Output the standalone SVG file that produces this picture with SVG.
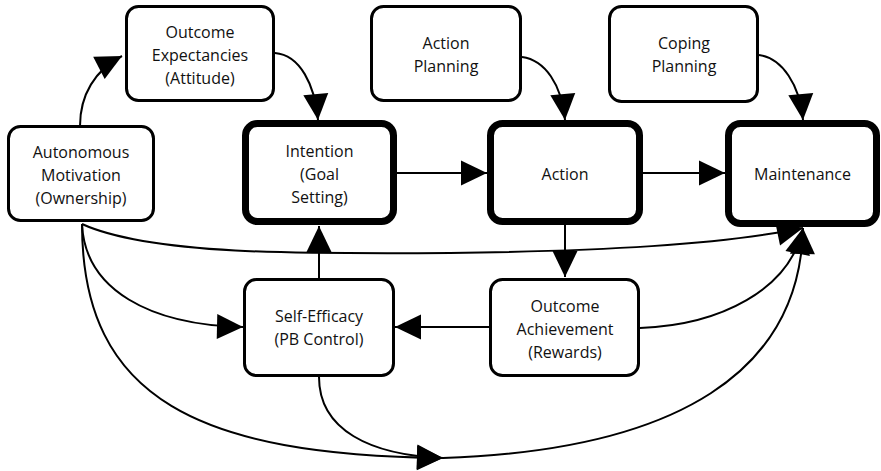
<svg xmlns="http://www.w3.org/2000/svg" width="881" height="471" viewBox="0 0 881 471">
<style>
.box{fill:#fff;stroke:#000;stroke-width:3}
.thick{fill:#fff;stroke:#000;stroke-width:7}
.lbl{font-family:"Open Sans","Noto Sans",sans-serif;font-size:16px;fill:#111;text-anchor:middle}
.c{fill:none;stroke:#000;stroke-width:2;marker-end:url(#ah)}
.cn{fill:none;stroke:#000;stroke-width:2}
</style>
<defs>
<marker id="ah" markerUnits="userSpaceOnUse" markerWidth="27" markerHeight="26" refX="26" refY="12.5" orient="auto" overflow="visible">
<path d="M0,0 L26,12.5 L0,25 Z" fill="#000"/>
</marker>
</defs>
<rect width="881" height="471" fill="#fff"/>
<g id="connectors">
<path class="c" d="M80,126 C80,95 95,70 122,56"/>
<path class="c" d="M275,53 C300,55 315,85 318,120"/>
<path class="c" d="M522,57 C545,60 562,85 565,120"/>
<path class="c" d="M759,55 C782,58 800,85 803,120"/>
<path class="c" d="M397,173 L487,173"/>
<path class="c" d="M643,173 L725,173"/>
<path class="c" d="M565,225 L565,277"/>
<path class="c" d="M489,327 L395,327"/>
<path class="c" d="M319,278 L319,226"/>
<path class="c" d="M82,224 C150,255 300,254 450,253 C600,251 720,245 803,228"/>
<path class="c" d="M82,224 C85,290 150,325 243,327"/>
<path class="c" d="M82,224 C82,400 200,455 443,458"/>
<path class="c" d="M319,377 C319,430 370,455 443,458"/>
<path class="c" d="M443,458 C680,450 800,370 803,228"/>
<path class="c" d="M640,328 C720,325 790,290 803,228"/>
</g>
<g id="outcome-expectancies">
<rect class="box" x="126.5" y="6.5" width="147" height="94" rx="12"/>
<text class="lbl" x="200" y="38">Outcome</text>
<text class="lbl" x="200" y="61">Expectancies</text>
<text class="lbl" x="200" y="84">(Attitude)</text>
</g>
<g id="autonomous-motivation">
<rect class="box" x="8.5" y="126.5" width="145" height="94" rx="12"/>
<text class="lbl" x="81" y="158">Autonomous</text>
<text class="lbl" x="81" y="181">Motivation</text>
<text class="lbl" x="81" y="204">(Ownership)</text>
</g>
<g id="action-planning">
<rect class="box" x="371.5" y="6.5" width="149" height="94" rx="12"/>
<text class="lbl" x="446" y="49">Action</text>
<text class="lbl" x="446" y="72">Planning</text>
</g>
<g id="coping-planning">
<rect class="box" x="609.5" y="6.5" width="148" height="95" rx="12"/>
<text class="lbl" x="684" y="49">Coping</text>
<text class="lbl" x="684" y="72">Planning</text>
</g>
<g id="intention">
<rect class="thick" x="245.5" y="123.5" width="148" height="98" rx="12"/>
<text class="lbl" x="319.5" y="157">Intention</text>
<text class="lbl" x="319.5" y="180">(Goal</text>
<text class="lbl" x="319.5" y="203">Setting)</text>
</g>
<g id="action">
<rect class="thick" x="490.5" y="123.5" width="149" height="98" rx="12"/>
<text class="lbl" x="565" y="180">Action</text>
</g>
<g id="maintenance">
<rect class="thick" x="728.5" y="123.5" width="148" height="100" rx="12"/>
<text class="lbl" x="802.5" y="180">Maintenance</text>
</g>
<g id="self-efficacy">
<rect class="box" x="244.5" y="279.5" width="149" height="96" rx="12"/>
<text class="lbl" x="319" y="322">Self-Efficacy</text>
<text class="lbl" x="319" y="345">(PB Control)</text>
</g>
<g id="outcome-achievement">
<rect class="box" x="490.5" y="279.5" width="148" height="96" rx="12"/>
<text class="lbl" x="565" y="312">Outcome</text>
<text class="lbl" x="565" y="335">Achievement</text>
<text class="lbl" x="565" y="358">(Rewards)</text>
</g>
</svg>
